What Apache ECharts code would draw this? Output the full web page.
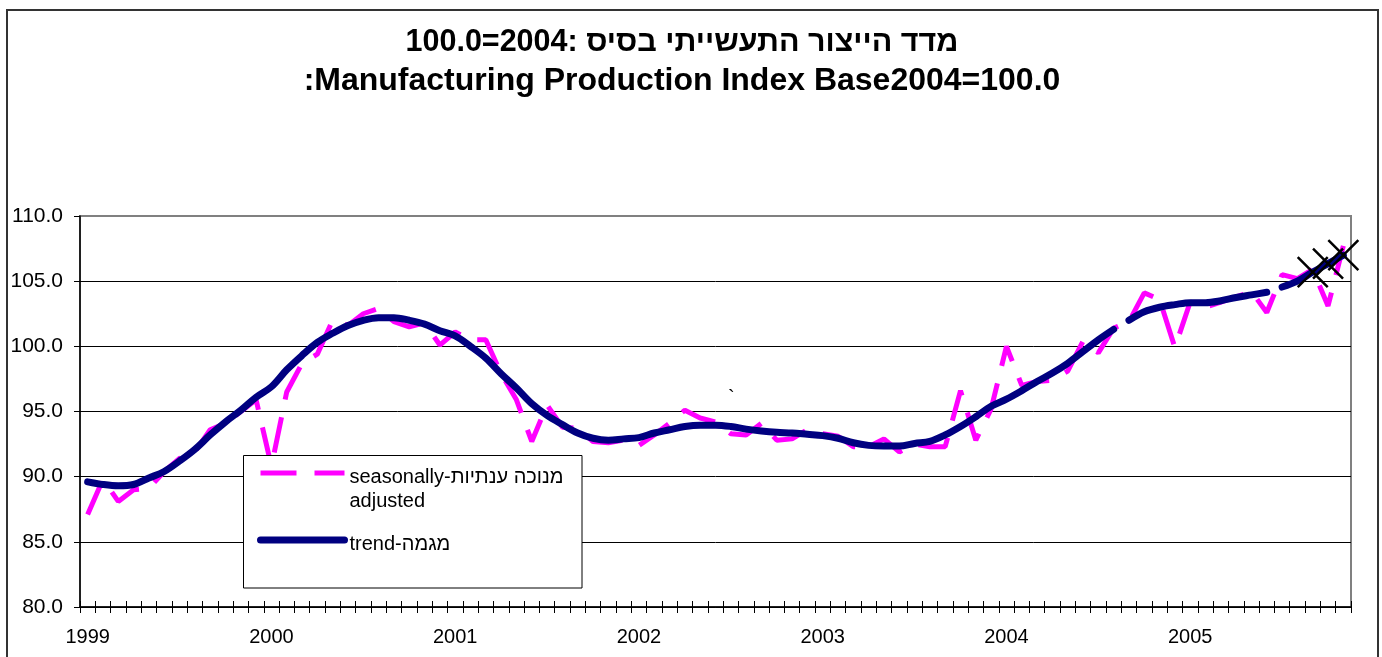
<!DOCTYPE html>
<html><head><meta charset="utf-8">
<script src="https://cdn.jsdelivr.net/npm/echarts@6/dist/echarts.min.js"></script>
<style>html,body{margin:0;padding:0;background:#fff}#c{width:1382px;height:657px}</style>
</head><body><div id="c"></div>
<script>
const titleLine1 = '100.0=2004: מדד הייצור התעשייתי בסיס';
const titleLine2 = ':Manufacturing Production Index Base2004=100.0';
const saName = 'seasonally-מנוכה ענתיות';
const saName2 = 'adjusted';
const trendName = 'trend-מגמה';
const years = ['1999','2000','2001','2002','2003','2004','2005'];
const monthCount = 83;
const categories = [];
for (let i = 0; i < monthCount; i++) {
  const m = i % 12 + 1;
  categories.push(years[Math.floor(i / 12)] + '-' + (m < 10 ? '0' + m : '' + m));
}
const yTicks = [80, 85, 90, 95, 100, 105, 110];
// seasonally adjusted, Jan 1999 .. Nov 2005
const saValues = [
  87.1, 89.8, 88.1, 89.0, 89.1, 90.4, 91.4, 91.9, 93.6, 94.1, 95.0, 95.9,
  90.8, 96.5, 98.7, 99.4, 102.0, 101.6, 102.5, 102.9, 101.9, 101.5, 101.8, 100.1,
  101.1, 100.5, 100.5, 97.9, 95.9, 92.7, 95.5, 93.8, 93.7, 92.7, 92.6, 92.8,
  92.4, 93.2, 94.1, 95.1, 94.5, 94.2, 93.3, 93.2, 94.1, 92.8, 92.9, 93.6,
  93.3, 93.1, 92.3, 92.3, 92.9, 91.9, 92.5, 92.3, 92.3, 96.6, 92.8, 95.2,
  100.0, 97.0, 97.3, 97.4, 98.1, 100.4, 99.5, 101.4, 101.9, 104.1, 103.6, 99.9,
  103.4, 103.0, 103.4, 103.8, 104.2, 102.6, 105.5, 105.2, 105.9, 103.1, 107.7
];
// trend, Jan 1999 .. Nov 2005
const trendValues = [
  89.6, 89.4, 89.3, 89.4, 89.9, 90.4, 91.2, 92.1, 93.2, 94.2, 95.1, 96.1,
  96.9, 98.2, 99.3, 100.3, 101.0, 101.6, 102.0, 102.2, 102.2, 102.0, 101.7, 101.2,
  100.8, 100.0, 99.1, 97.9, 96.8, 95.6, 94.7, 94.0, 93.35, 92.95, 92.8, 92.9,
  93.0, 93.35, 93.6, 93.85, 93.95, 93.95, 93.85, 93.65, 93.5, 93.4, 93.35, 93.25,
  93.15, 92.95, 92.6, 92.4, 92.35, 92.35, 92.55, 92.7, 93.2, 93.85, 94.6, 95.4,
  95.95, 96.6, 97.3, 97.95, 98.7, 99.6, 100.5, 101.3, 102.0, 102.65, 103.0, 103.2,
  103.35, 103.35, 103.5, 103.75, 103.95, 104.15, 104.55, 105.0, 105.7, 106.35, 107.0
];
// trend line pieces (index ranges, inclusive) and months marked with crosses
const trendPieces = [[0, 67], [68, 77], [78, 82]];
const markedMonths = [80, 81, 82];

const FONT = '"Liberation Sans", Arial, sans-serif';
function piece(r) { return trendValues.map((v, i) => (i >= r[0] && i <= r[1]) ? v : null); }
const markerData = trendValues.map((v, i) => markedMonths.indexOf(i) >= 0 ? [i, v] : null).filter(d => d);

const trendSeries = trendPieces.map(r => ({
  type: 'line', name: trendName, data: piece(r), symbol: 'none', smooth: 0.35,
  connectNulls: false, z: 3,
  lineStyle: { color: '#000080', width: 7, cap: 'round', join: 'round' },
  itemStyle: { color: '#000080' }
}));

const hiddenSymbol = { color: 'rgba(0,0,0,0)', borderColor: 'rgba(0,0,0,0)', borderWidth: 0, opacity: 0 };

const chart = echarts.init(document.getElementById('c'), null, { renderer: 'canvas' });
chart.setOption({
  backgroundColor: '#fff',
  animation: false,
  title: {
    text: titleLine1,
    subtext: titleLine2,
    left: 682, top: 23, textAlign: 'center', padding: 0, itemGap: 0,
    textStyle: { fontSize: 30.5, fontWeight: 'bold', lineHeight: 39, color: '#000', fontFamily: FONT },
    subtextStyle: { fontSize: 32, fontWeight: 'bold', lineHeight: 39, color: '#000', fontFamily: FONT }
  },
  grid: { left: 80, right: 31, top: 216, bottom: 50, show: true, borderColor: '#808080', borderWidth: 2, backgroundColor: 'transparent' },
  legend: {
    orient: 'vertical', left: 257, top: 433, padding: 0, itemWidth: 84, itemHeight: 24, itemGap: 11,
    selectedMode: false,
    data: [
      { name: saName, lineStyle: { width: 5 }, itemStyle: hiddenSymbol },
      { name: trendName, lineStyle: { width: 7 }, itemStyle: hiddenSymbol }
    ],
    formatter: n => n === saName ? '{b|\u00a0}\n' + n + '\n' + saName2 : '{s|\u00a0}\n' + n,
    textStyle: {
      fontSize: 20, lineHeight: 24, color: '#000', fontFamily: FONT,
      rich: { b: { lineHeight: 32, fontSize: 20 }, s: { lineHeight: 8, fontSize: 8 } }
    }
  },
  xAxis: [
    {
      type: 'category', data: categories, boundaryGap: true, position: 'bottom',
      axisLine: { show: true, lineStyle: { color: '#000', width: 1.5 } },
      axisTick: { show: true, interval: 0, length: 6, lineStyle: { color: '#000', width: 1 } },
      axisLabel: { interval: 11, formatter: v => v.slice(0, 4), fontSize: 20, color: '#000', margin: 20, fontFamily: FONT },
      splitLine: { show: false }
    },
    {
      type: 'category', data: categories, boundaryGap: true, position: 'bottom', gridIndex: 0,
      axisLine: { show: false },
      axisTick: { show: true, inside: true, interval: 0, length: 6, lineStyle: { color: '#000', width: 1 } },
      axisLabel: { show: false },
      splitLine: { show: false }
    }
  ],
  yAxis: {
    type: 'value', min: yTicks[0], max: yTicks[yTicks.length - 1], interval: 5,
    axisLine: { show: true, lineStyle: { color: '#000', width: 1.5 } },
    axisTick: { show: true, length: 6, lineStyle: { color: '#000', width: 1 } },
    axisLabel: { formatter: v => v.toFixed(1), fontSize: 21, color: '#000', margin: 17, fontFamily: FONT },
    splitLine: { show: true, showMaxLine: false, lineStyle: { color: '#000', width: 1 } }
  },
  series: [
    {
      type: 'line', name: saName, data: saValues, symbol: 'none', z: 2,
      lineStyle: { color: '#FF00FF', width: 5, type: [36, 18] },
      itemStyle: { color: '#FF00FF' }
    }
  ].concat(trendSeries).concat([
    {
      type: 'scatter', name: 'x', data: markerData, clip: false, z: 4, silent: true,
      symbol: 'path://M0,0L20,20M20,0L0,20', symbolSize: 30,
      itemStyle: { color: '#000', borderColor: '#000', borderWidth: 2.5, opacity: 1 }
    }
  ]),
  graphic: [
    { type: 'rect', silent: true, z: 0, shape: { x: 7, y: 10, width: 1371, height: 700 }, style: { fill: 'none', stroke: '#333', lineWidth: 2 } },
    { type: 'rect', silent: true, z: 3, shape: { x: 243.5, y: 455.5, width: 338.5, height: 132.5 }, style: { fill: '#fff', stroke: '#000', lineWidth: 1 } },
    { type: 'text', silent: true, z: 3, x: 728, y: 388, style: { text: '`', fontSize: 20, fill: '#000', fontFamily: FONT } }
  ]
});
</script></body></html>
